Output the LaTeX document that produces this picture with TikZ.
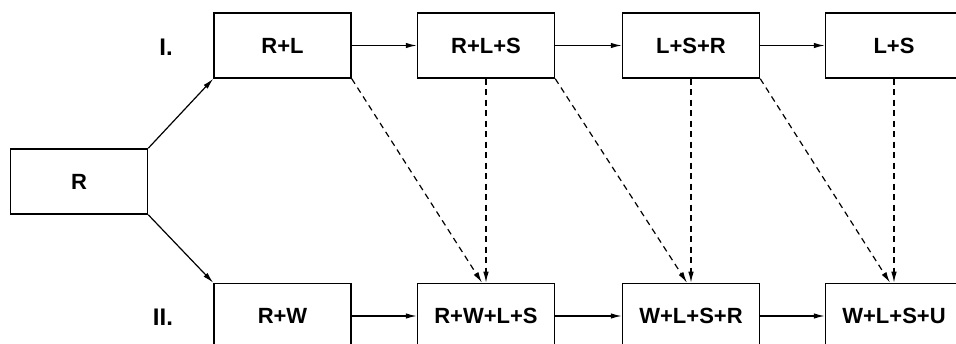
\documentclass[tikz,border=0pt]{standalone}
\usepackage{fontspec}
\setmainfont{Liberation Sans}
\usetikzlibrary{arrows.meta}
\tikzset{
  stage/.style={draw, line width=1.5pt, minimum width=137pt, minimum height=65pt, inner sep=0pt,
    font=\fontsize{22}{26}\selectfont\bfseries},
  lbl/.style={font=\fontsize{24}{28}\selectfont\bfseries, inner sep=0pt},
  arr/.style={line width=1.2pt, -{Latex[length=11pt,width=5.5pt]}},
  darr/.style={line width=1.2pt, dash pattern=on 6pt off 4.5pt, -{Latex[length=11pt,width=5.5pt]}}
}
\begin{document}
\begin{tikzpicture}[x=1pt,y=-1pt]
\useasboundingbox (0,0) rectangle (956,344);
\clip (0,0) rectangle (956,344);
\node[stage] (r) at (79,181.5) {R};
\node[stage] (a1) at (282.5,45.5) {R+L};
\node[stage] (a2) at (486,45.5) {R+L+S};
\node[stage] (a3) at (691,45.5) {L+S+R};
\node[stage] (a4) at (894,45.5) {L+S};
\node[stage] (b1) at (282.5,316) {R+W};
\node[stage] (b2) at (486,316) {R+W+L+S};
\node[stage] (b3) at (691,316) {W+L+S+R};
\node[stage] (b4) at (894,316) {W+L+S+U};
\node[lbl] (l1) at (166,47) {I.};
\node[lbl] (l2) at (163,317) {II.};
\draw[arr] (r.north east) -- (a1.south west);
\draw[arr] (r.south east) -- (b1.north west);
\draw[arr] (a1) -- (a2);
\draw[arr] (a2) -- (a3);
\draw[arr] (a3) -- (a4);
\draw[arr] (b1) -- (b2);
\draw[arr] (b2) -- (b3);
\draw[arr] (b3) -- (b4);
\draw[darr] (a1.south east) -- ([xshift=-4pt]b2.north);
\draw[darr] (a2.south east) -- ([xshift=-4pt]b3.north);
\draw[darr] (a3.south east) -- ([xshift=-4pt]b4.north);
\draw[darr] (a2.south) -- (b2.north);
\draw[darr] (a3.south) -- (b3.north);
\draw[darr] (a4.south) -- (b4.north);
\end{tikzpicture}
\end{document}
